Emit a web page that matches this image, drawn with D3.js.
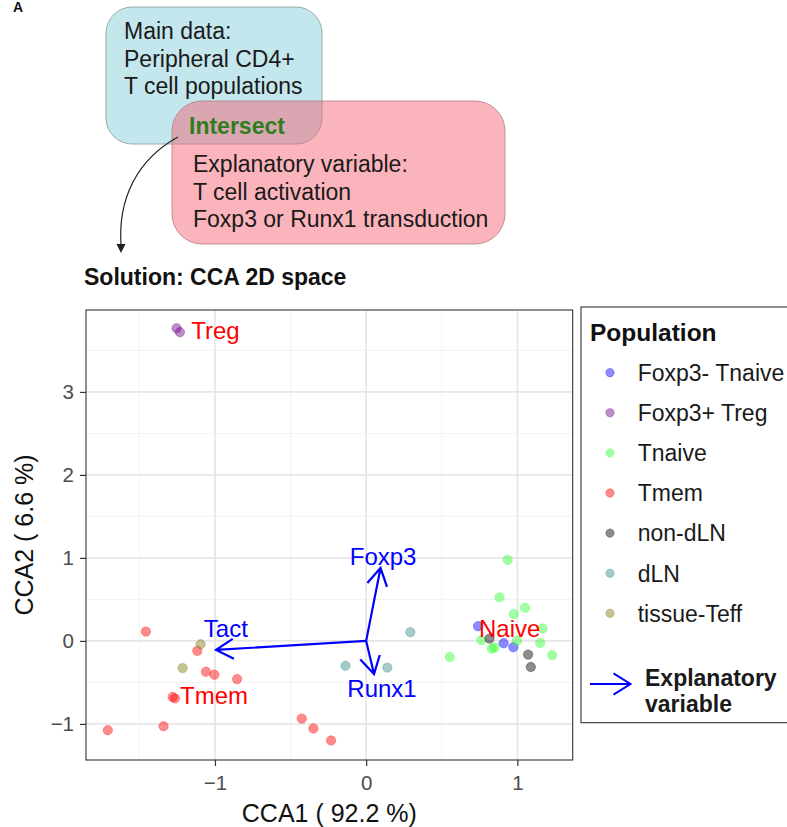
<!DOCTYPE html>
<html><head><meta charset="utf-8">
<script src="https://cdn.jsdelivr.net/npm/d3@7"></script>
<style>body{margin:0;background:#fff}svg{display:block}text{font-family:"Liberation Sans",Arial,Helvetica,sans-serif}</style>
</head><body>
<script>
// ---------------- data ----------------
const populations = ["Foxp3- Tnaive","Foxp3+ Treg","Tnaive","Tmem","non-dLN","dLN","tissue-Teff"];
const popColors = ["#0000ff","#72008a","#33ff33","#ff0000","#000000","#378989","#7d7a10"];
const sampleCCA1 = [
  // Foxp3- Tnaive
  0.740, 0.909, 0.973,
  // Foxp3+ Treg
  -1.254, -1.232,
  // Tnaive
  0.936, 0.882, 1.051, 0.976, 1.167, 0.762, 0.831, 0.849, 0.998, 1.151, 1.231, 0.553,
  // Tmem
  -1.457, -1.117, -1.060, -1.004, -0.854, -1.280, -1.265, -1.709, -1.340, -0.426, -0.349, -0.232,
  // non-dLN
  0.816, 1.071, 1.089,
  // dLN
  -0.137, 0.140, 0.292,
  // tissue-Teff
  -1.095, -1.214
];
const sampleCCA2 = [
  0.177, -0.028, -0.077,
  3.767, 3.719,
  0.976, 0.524, 0.399, 0.323, 0.149, 0.008, -0.093, -0.081, 0.000, -0.024, -0.173, -0.194,
  0.112, -0.120, -0.372, -0.408, -0.460, -0.676, -0.692, -1.076, -1.028, -0.936, -1.056, -1.200,
  0.028, -0.165, -0.315,
  -0.300, -0.322, 0.105,
  -0.040, -0.328
];
const samplePopulation = [
  0,0,0, 1,1, 2,2,2,2,2,2,2,2,2,2,2,2, 3,3,3,3,3,3,3,3,3,3,3,3, 4,4,4, 5,5,5, 6,6
];
const groupLabels = ["Treg","Tmem","Naive"];
const groupLabelCCA1 = [-0.997, -1.006, 0.949];
const groupLabelCCA2 = [3.737, -0.662, 0.149];
const arrowNames = ["Tact","Foxp3","Runx1"];
const arrowCCA1 = [-0.993, 0.095, 0.052];
const arrowCCA2 = [-0.108, 0.878, -0.400];
const arrowLabelCCA1 = [-0.928, 0.112, 0.105];
const arrowLabelCCA2 = [0.156, 1.020, -0.568];
const xTicks = [-1, 0, 1];
const yTicks = [-1, 0, 1, 2, 3];
const xMinor = [-1.5, -0.5, 0.5];
const yMinor = [-0.5, 0.5, 1.5, 2.5, 3.5];
const xTitle = "CCA1 ( 92.2 %)";
const yTitle = "CCA2 ( 6.6 %)";
const legendTitle = "Population";
const legendArrowLabel = ["Explanatory", "variable"];
const boxMainLines = ["Main data:", "Peripheral CD4+", "T cell populations"];
const boxExplLines = ["Explanatory variable:", "T cell activation", "Foxp3 or Runx1 transduction"];
const intersectLabel = "Intersect";
const solutionLabel = "Solution: CCA 2D space";
const panelLetter = "A";

// ---------------- drawing ----------------
const W = 787, H = 827;
const svg = d3.select("body").append("svg").attr("width", W).attr("height", H);

// panel letter
svg.append("text").attr("x", 13).attr("y", 12).attr("font-size", 14).attr("font-weight", "bold").attr("fill", "#111").text(panelLetter);

// ---- diagram ----
svg.append("rect").attr("x", 106).attr("y", 7).attr("width", 216).attr("height", 137).attr("rx", 26)
  .attr("fill", "rgb(160,215,226)").attr("fill-opacity", 0.62).attr("stroke", "#8a9a9c").attr("stroke-width", 0.8);
svg.append("rect").attr("x", 172).attr("y", 101).attr("width", 333).attr("height", 143).attr("rx", 30)
  .attr("fill", "#f65968").attr("fill-opacity", 0.45).attr("stroke", "#b08088").attr("stroke-width", 0.8);

svg.selectAll("text.mainline").data(boxMainLines).join("text").attr("class", "mainline")
  .attr("x", 124).attr("y", (d, i) => 39 + i * 27.7).attr("font-size", 23).attr("fill", "#1a1a1a").text(d => d);
svg.append("text").attr("x", 189).attr("y", 134).attr("font-size", 23).attr("font-weight", "bold")
  .attr("fill", "#2e7d1e").text(intersectLabel);
svg.selectAll("text.explline").data(boxExplLines).join("text").attr("class", "explline")
  .attr("x", 193).attr("y", (d, i) => 171.7 + i * 27.8).attr("font-size", 23).attr("fill", "#1a1a1a").text(d => d);

svg.append("path").attr("d", "M178,137 C136,160 118,200 121,245").attr("fill", "none").attr("stroke", "#222").attr("stroke-width", 1.2);
svg.append("path").attr("d", "M116.5,244 L125.5,244 L121,253 Z").attr("fill", "#222");
svg.append("text").attr("x", 84).attr("y", 285).attr("font-size", 23).attr("font-weight", "bold").attr("fill", "#111").text(solutionLabel);

// ---- plot panel ----
const panel = {left: 86, right: 572.7, top: 310, bottom: 760};
const x = d3.scaleLinear().domain([-1.853, 1.366]).range([panel.left, panel.right]);
const y = d3.scaleLinear().domain([-1.435, 3.987]).range([panel.bottom, panel.top]);

const grid = svg.append("g");
grid.selectAll("line.xmin").data(xMinor).join("line").attr("x1", d => x(d)).attr("x2", d => x(d))
  .attr("y1", panel.top).attr("y2", panel.bottom).attr("stroke", "#f2f2f2").attr("stroke-width", 1);
grid.selectAll("line.ymin").data(yMinor).join("line").attr("y1", d => y(d)).attr("y2", d => y(d))
  .attr("x1", panel.left).attr("x2", panel.right).attr("stroke", "#f2f2f2").attr("stroke-width", 1);
grid.selectAll("line.xmaj").data(xTicks).join("line").attr("x1", d => x(d)).attr("x2", d => x(d))
  .attr("y1", panel.top).attr("y2", panel.bottom).attr("stroke", "#e6e6e6").attr("stroke-width", 1.7);
grid.selectAll("line.ymaj").data(yTicks).join("line").attr("y1", d => y(d)).attr("y2", d => y(d))
  .attr("x1", panel.left).attr("x2", panel.right).attr("stroke", "#e6e6e6").attr("stroke-width", 1.7);

// points
const pts = sampleCCA1.map((v, i) => ({x: v, y: sampleCCA2[i], p: samplePopulation[i]}));
svg.append("g").selectAll("circle").data(pts).join("circle")
  .attr("cx", d => x(d.x)).attr("cy", d => y(d.y)).attr("r", 4.7)
  .attr("fill", d => popColors[d.p]).attr("fill-opacity", 0.45)
  .attr("stroke", d => popColors[d.p]).attr("stroke-opacity", 0.3).attr("stroke-width", 1);

// arrows
const headLen = 20, headAng = Math.PI / 6;
function arrowPath(x0, y0, x1, y1, L, A) {
  const a = Math.atan2(y1 - y0, x1 - x0);
  const p1 = [x1 - L * Math.cos(a - A), y1 - L * Math.sin(a - A)];
  const p2 = [x1 - L * Math.cos(a + A), y1 - L * Math.sin(a + A)];
  return `M${x0},${y0}L${x1},${y1}M${p1[0]},${p1[1]}L${x1},${y1}L${p2[0]},${p2[1]}`;
}
svg.append("g").selectAll("path").data(arrowNames).join("path")
  .attr("d", (d, i) => arrowPath(x(0), y(0), x(arrowCCA1[i]), y(arrowCCA2[i]), headLen, headAng))
  .attr("fill", "none").attr("stroke", "#0000ff").attr("stroke-width", 2.2).attr("stroke-linejoin", "miter");

svg.append("g").selectAll("text").data(arrowNames).join("text")
  .attr("x", (d, i) => x(arrowLabelCCA1[i])).attr("y", (d, i) => y(arrowLabelCCA2[i]) + 8.6)
  .attr("text-anchor", "middle").attr("font-size", 24).attr("fill", "#0000ff").text(d => d);
svg.append("g").selectAll("text").data(groupLabels).join("text")
  .attr("x", (d, i) => x(groupLabelCCA1[i])).attr("y", (d, i) => y(groupLabelCCA2[i]) + 8.6)
  .attr("text-anchor", "middle").attr("font-size", 24).attr("fill", "#ff0000").text(d => d);

// border
svg.append("rect").attr("x", panel.left).attr("y", panel.top).attr("width", panel.right - panel.left)
  .attr("height", panel.bottom - panel.top).attr("fill", "none").attr("stroke", "#333").attr("stroke-width", 1.1);

// axes
const xAxis = svg.append("g").attr("transform", `translate(0,${panel.bottom})`)
  .call(d3.axisBottom(x).tickValues(xTicks).tickSize(6).tickPadding(9).tickFormat(d3.format("d")));
const yAxis = svg.append("g").attr("transform", `translate(${panel.left},0)`)
  .call(d3.axisLeft(y).tickValues(yTicks).tickSize(6).tickPadding(6).tickFormat(d3.format("d")));
[xAxis, yAxis].forEach(g => {
  g.select(".domain").remove();
  g.selectAll(".tick line").attr("stroke", "#333").attr("stroke-width", 1.2);
  g.selectAll(".tick text").attr("font-size", 20.5).attr("fill", "#4d4d4d")
    .attr("font-family", '"Liberation Sans",Arial,sans-serif');
});

svg.append("text").attr("x", (panel.left + panel.right) / 2).attr("y", 822).attr("text-anchor", "middle")
  .attr("font-size", 25).attr("fill", "#111").text(xTitle);
svg.append("text").attr("transform", `translate(33,${(panel.top + panel.bottom) / 2}) rotate(-90)`)
  .attr("text-anchor", "middle").attr("font-size", 25).attr("fill", "#111").text(yTitle);

// legend
const lg = svg.append("g");
lg.append("rect").attr("x", 581).attr("y", 307).attr("width", 300).attr("height", 415.7)
  .attr("fill", "#fff").attr("stroke", "#333").attr("stroke-width", 1.1);
lg.append("text").attr("x", 590).attr("y", 340.7).attr("font-size", 24.5).attr("font-weight", "bold")
  .attr("fill", "#111").text(legendTitle);
const items = lg.selectAll("g.item").data(populations).join("g").attr("class", "item")
  .attr("transform", (d, i) => `translate(0,${372.7 + i * 40.1})`);
items.append("circle").attr("cx", 610).attr("cy", 0).attr("r", 4.2)
  .attr("fill", (d, i) => popColors[i]).attr("fill-opacity", 0.45)
  .attr("stroke", (d, i) => popColors[i]).attr("stroke-opacity", 0.3);
items.append("text").attr("x", 637.7).attr("y", 8.3).attr("font-size", 23).attr("fill", "#1a1a1a").text(d => d);

lg.append("path").attr("d", "M590,684L630.5,684M613.5,673.3L630.5,684L613.5,694.7")
  .attr("fill", "none").attr("stroke", "#0000ff").attr("stroke-width", 2);
lg.selectAll("text.expl").data(legendArrowLabel).join("text").attr("class", "expl")
  .attr("x", 645).attr("y", (d, i) => 685.5 + i * 26.5).attr("font-size", 23).attr("font-weight", "bold")
  .attr("fill", "#1a1a1a").text(d => d);
</script>
</body></html>
